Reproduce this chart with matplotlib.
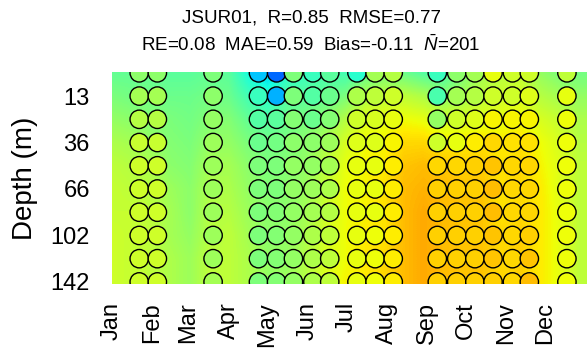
import numpy as np
import matplotlib
matplotlib.use("Agg")
import matplotlib.pyplot as plt

plt.rcParams["font.family"] = ["Liberation Sans", "DejaVu Sans"]
plt.rcParams["mathtext.fontset"] = "custom"
plt.rcParams["mathtext.rm"] = "Liberation Sans"
plt.rcParams["mathtext.it"] = "Liberation Sans:italic"

# depth levels (rows, top to bottom) and tick labels
depth_labels = ["13", "36", "66", "102", "142"]
depth_tick_rows = [1, 3, 5, 7, 9]
n_levels = 10

months = ["Jan", "Feb", "Mar", "Apr", "May", "Jun",
          "Jul", "Aug", "Sep", "Oct", "Nov", "Dec"]
month_start = [0, 31, 59, 90, 120, 151, 181, 212, 243, 273, 304, 334]

# model field (colour index), sampled every 15 days, rows = depth levels
model_days = [0, 15, 30, 45, 60, 75, 90, 105, 120, 135, 150, 165, 180,
              195, 210, 225, 240, 255, 270, 285, 300, 315, 330, 345, 360]
model_vals = [
    [0.47, 0.50, 0.53, 0.56, 0.58, 0.59, 0.59, 0.60, 0.60, 0.60],
    [0.47, 0.49, 0.52, 0.55, 0.57, 0.58, 0.59, 0.59, 0.59, 0.59],
    [0.47, 0.49, 0.51, 0.53, 0.56, 0.57, 0.58, 0.58, 0.58, 0.58],
    [0.46, 0.48, 0.50, 0.51, 0.52, 0.54, 0.55, 0.55, 0.56, 0.56],
    [0.46, 0.48, 0.49, 0.50, 0.51, 0.52, 0.52, 0.53, 0.54, 0.54],
    [0.47, 0.49, 0.51, 0.53, 0.55, 0.56, 0.57, 0.57, 0.58, 0.58],
    [0.46, 0.48, 0.51, 0.53, 0.55, 0.56, 0.57, 0.58, 0.58, 0.58],
    [0.38, 0.43, 0.47, 0.50, 0.52, 0.53, 0.54, 0.55, 0.56, 0.56],
    [0.33, 0.40, 0.45, 0.49, 0.50, 0.51, 0.52, 0.52, 0.53, 0.53],
    [0.40, 0.45, 0.48, 0.50, 0.51, 0.52, 0.52, 0.53, 0.53, 0.54],
    [0.42, 0.46, 0.50, 0.52, 0.53, 0.54, 0.55, 0.56, 0.57, 0.57],
    [0.44, 0.47, 0.52, 0.56, 0.58, 0.59, 0.60, 0.61, 0.61, 0.62],
    [0.43, 0.50, 0.57, 0.61, 0.63, 0.64, 0.64, 0.64, 0.64, 0.65],
    [0.47, 0.56, 0.62, 0.64, 0.65, 0.65, 0.65, 0.66, 0.66, 0.66],
    [0.50, 0.58, 0.63, 0.65, 0.66, 0.67, 0.67, 0.67, 0.68, 0.68],
    [0.48, 0.58, 0.64, 0.68, 0.70, 0.71, 0.71, 0.71, 0.71, 0.71],
    [0.45, 0.56, 0.63, 0.68, 0.71, 0.72, 0.73, 0.73, 0.73, 0.73],
    [0.44, 0.52, 0.60, 0.66, 0.70, 0.71, 0.71, 0.71, 0.71, 0.71],
    [0.50, 0.55, 0.61, 0.66, 0.69, 0.70, 0.70, 0.70, 0.70, 0.70],
    [0.55, 0.58, 0.62, 0.67, 0.69, 0.70, 0.70, 0.70, 0.70, 0.70],
    [0.57, 0.60, 0.63, 0.66, 0.67, 0.67, 0.67, 0.68, 0.68, 0.68],
    [0.58, 0.61, 0.64, 0.67, 0.68, 0.68, 0.68, 0.69, 0.69, 0.69],
    [0.53, 0.57, 0.61, 0.64, 0.65, 0.66, 0.66, 0.66, 0.66, 0.66],
    [0.50, 0.55, 0.59, 0.61, 0.62, 0.62, 0.63, 0.63, 0.63, 0.63],
    [0.49, 0.53, 0.56, 0.57, 0.58, 0.58, 0.58, 0.58, 0.58, 0.58],
]

# observation profiles (day of year) and values per depth level
obs_days = [21, 35, 78, 113, 127, 140, 155, 168, 189, 203, 217,
            251, 266, 280, 294, 309, 322, 351]
obs_vals = [
    [0.52, 0.55, 0.57, 0.59, 0.60, 0.60, 0.60, 0.60, 0.60, 0.60],
    [0.52, 0.55, 0.57, 0.59, 0.60, 0.60, 0.60, 0.60, 0.60, 0.60],
    [0.50, 0.52, 0.53, 0.54, 0.54, 0.54, 0.54, 0.54, 0.54, 0.55],
    [0.32, 0.42, 0.45, 0.48, 0.50, 0.50, 0.50, 0.50, 0.50, 0.50],
    [0.23, 0.30, 0.46, 0.49, 0.50, 0.50, 0.51, 0.51, 0.51, 0.51],
    [0.50, 0.50, 0.51, 0.52, 0.53, 0.53, 0.53, 0.53, 0.53, 0.53],
    [0.42, 0.45, 0.48, 0.52, 0.53, 0.54, 0.55, 0.56, 0.56, 0.56],
    [0.46, 0.48, 0.51, 0.54, 0.55, 0.56, 0.57, 0.58, 0.58, 0.58],
    [0.40, 0.56, 0.60, 0.62, 0.63, 0.63, 0.63, 0.63, 0.63, 0.63],
    [0.55, 0.58, 0.61, 0.62, 0.63, 0.63, 0.63, 0.64, 0.64, 0.64],
    [0.57, 0.60, 0.63, 0.65, 0.66, 0.66, 0.66, 0.66, 0.66, 0.66],
    [0.42, 0.44, 0.53, 0.60, 0.68, 0.69, 0.69, 0.69, 0.69, 0.69],
    [0.52, 0.55, 0.60, 0.63, 0.68, 0.69, 0.69, 0.69, 0.69, 0.69],
    [0.55, 0.57, 0.62, 0.66, 0.69, 0.69, 0.69, 0.69, 0.69, 0.69],
    [0.63, 0.60, 0.65, 0.68, 0.70, 0.71, 0.71, 0.70, 0.70, 0.69],
    [0.60, 0.60, 0.65, 0.67, 0.68, 0.68, 0.68, 0.68, 0.68, 0.68],
    [0.60, 0.62, 0.65, 0.67, 0.68, 0.68, 0.68, 0.69, 0.70, 0.71],
    [0.58, 0.63, 0.64, 0.64, 0.64, 0.64, 0.64, 0.64, 0.64, 0.64],
]

title1 = "JSUR01,  R=0.85  RMSE=0.77"
title2 = r"RE=0.08  MAE=0.59  Bias=-0.11  $\bar{N}$=201"

fig = plt.figure(figsize=(5.87, 3.55), dpi=100)
ax = fig.add_axes([0.1908, 0.2, 0.8092, 0.5958])

cmap = plt.get_cmap("jet")
grid = np.array(model_vals).T
step = model_days[1] - model_days[0]
ax.imshow(grid, cmap=cmap, vmin=0, vmax=1, aspect="auto",
          interpolation="bilinear",
          extent=(model_days[0] - step / 2, model_days[-1] + step / 2,
                  n_levels - 0.5, -0.5))

levels = np.arange(n_levels)
for day, prof in zip(obs_days, obs_vals):
    ax.scatter(np.full(n_levels, day), levels, c=prof, cmap=cmap,
               vmin=0, vmax=1, s=175, edgecolors="black", linewidths=1.0,
               zorder=3)

ax.set_xlim(0, 366.5)
ax.set_ylim(9.09, -0.015)
ax.set_xticks(month_start)
ax.set_xticklabels(months, rotation=90, fontsize=17)
ax.set_yticks(depth_tick_rows)
ax.set_yticklabels(depth_labels, fontsize=17)
ax.tick_params(axis="both", length=0)
ax.tick_params(axis="x", pad=13)
ax.tick_params(axis="y", pad=16)
for s in ax.spines.values():
    s.set_visible(False)
ax.set_ylabel("Depth (m)", fontsize=20, labelpad=9)

fig.text(311 / 587, 1 - 18 / 355, title1, ha="center", va="center",
         fontsize=13.5)
fig.text(311 / 587, 1 - 45 / 355, title2, ha="center", va="center",
         fontsize=13.5)

fig.savefig("out.png", dpi=100)
